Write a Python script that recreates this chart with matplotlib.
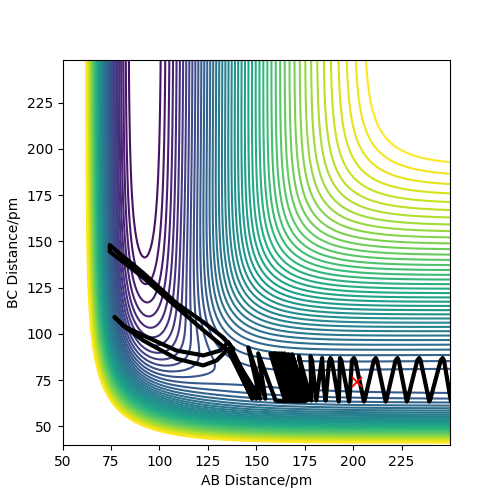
import numpy as np
import matplotlib
matplotlib.use("Agg")
import matplotlib.pyplot as plt

# LEPS surface parameters (pm, kJ/mol): F + H2
D_HF, beta_HF, re_HF, sato_HF = 591.0, 0.02219, 91.7, 0.167
D_HH, beta_HH, re_HH, sato_HH = 458.0, 0.01942, 74.19, 0.106
level_low, level_high, level_step = -570, -85, 10
color_floor = -590

# Trajectory, from the right edge to the left
traj_ab = [250.5,246.9,246.2,245.2,239.8,239.3,234.8,234.1,233.1,228.1,227.7,223.5,222.9,221.9,217.2,216.8,212.3,211.7,210.7,
           206,205.6,201.1,200.4,199.4,198.1,197.9,193.9,193.2,192.8,192.6,189,188.3,187.6,185.8,184.8,184,183,181,178.8,178,
           178.4,172,176.2,168.5,174.8,175.6,166.5,173,174.4,164.5,171.6,172.8,163,170.4,171.2,161.5,169,170,
           160,168,168.6,159,166.4,167.2,157.3,165,160,151,154.7,145.9,152,136,138.2,133,122.7,108.9,91.6,80,74.4,
           74.4,80,91.6,108.9,121,129.6,135.6,148,136.5,135.6,129.6,122.7,108.9,91.6,82,76.9,
           82,91.6,108.9,122.7,131.3,135.6,150]
traj_bc = [63.5,85.7,87,85.7,64.5,63.5,85.7,87,85.7,64.5,63.5,85.7,87,85.7,64.5,63.5,85.7,87,85.7,
           64.5,63.5,85.7,87,85.7,64.5,63.5,85.7,87,70,63.5,85.5,87,85,64,72,87,80,64,85.7,88,
           64,88,64,89,63.5,65,89,63.5,65,89.5,63.5,65,89.5,63.5,65,89.5,63.5,65,
           89.5,63.5,65,89.5,63.5,65,89.5,63.5,64,89.5,65,92.7,65,92,92,98,106.4,116.5,133,143,148,
           144.5,140,130.5,114.5,103.5,96,91,65,90,92,85.7,83,86.6,96.5,104,109,
           104,99.2,91,88.4,91,95.6,65]
start_ab, start_bc = [202], [73.8]

xlim = (50, 250)
ylim = (40, 248)
tick_x = [50, 75, 100, 125, 150, 175, 200, 225]
tick_y = [50, 75, 100, 125, 150, 175, 200, 225]


def coulomb_exchange(r, D, b, re, s):
    e1 = np.exp(-b * (r - re))
    e2 = e1 ** 2
    q = D / 4 * ((3 + s) * e2 - (2 + 6 * s) * e1) / (1 + s)
    j = D / 4 * ((1 + 3 * s) * e2 - (6 + 2 * s) * e1) / (1 + s)
    return q, j


def leps(ab, bc):
    q1, j1 = coulomb_exchange(ab, D_HF, beta_HF, re_HF, sato_HF)
    q2, j2 = coulomb_exchange(bc, D_HH, beta_HH, re_HH, sato_HH)
    q3, j3 = coulomb_exchange(ab + bc, D_HF, beta_HF, re_HF, sato_HF)
    return q1 + q2 + q3 - np.sqrt(j1**2 + j2**2 + j3**2 - j1*j2 - j2*j3 - j1*j3)


fig = plt.figure(figsize=(5, 5), dpi=100)
ax = fig.add_subplot(111)
X, Y = np.meshgrid(np.linspace(*xlim, 500), np.linspace(*ylim, 500))
ax.contour(X, Y, leps(X, Y), levels=np.arange(level_low, level_high, level_step),
           cmap="viridis", vmin=color_floor, vmax=level_high - 5)
ax.plot(traj_ab, traj_bc, color="k", lw=3.0, solid_capstyle="round", solid_joinstyle="round")
ax.plot(start_ab, start_bc, "x", color="r", ms=7, mew=1.3)
ax.set_xlim(*xlim)
ax.set_ylim(*ylim)
ax.set_xticks(tick_x)
ax.set_yticks(tick_y)
ax.set_xlabel("AB Distance/pm")
ax.set_ylabel("BC Distance/pm")
fig.subplots_adjust(left=0.125, right=0.9, top=0.88, bottom=0.11)
fig.savefig("out.png", dpi=100)
